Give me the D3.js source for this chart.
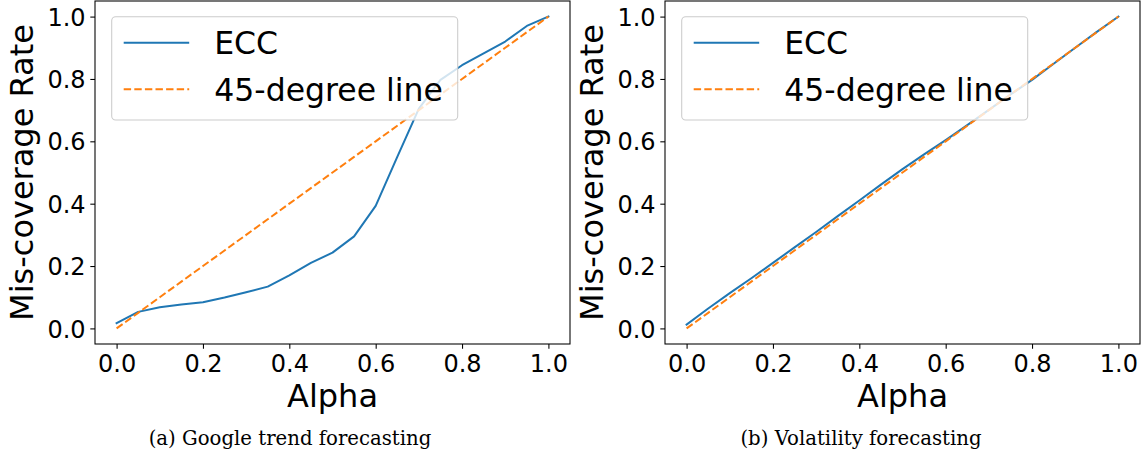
<!DOCTYPE html>
<html>
<head>
<meta charset="utf-8">
<script src="https://cdn.jsdelivr.net/npm/d3@7"></script>
<style>
  html, body { margin: 0; padding: 0; background: #fff; }
  svg { display: block; }
</style>
</head>
<body>
<svg id="chart" width="1144" height="457"></svg>
<script>
// ---- data ----
const alpha = [0, 0.05, 0.1, 0.15, 0.2, 0.25, 0.3, 0.35, 0.4, 0.45, 0.5,
               0.55, 0.6, 0.65, 0.7, 0.75, 0.8, 0.85, 0.9, 0.95, 1.0];
const eccGoogle = [0.017, 0.053, 0.068, 0.077, 0.084, 0.099, 0.116, 0.134, 0.170, 0.210, 0.243,
                   0.295, 0.393, 0.550, 0.705, 0.797, 0.844, 0.882, 0.920, 0.970, 1.0];
const eccVolatility = [0.012, 0.064, 0.113, 0.161, 0.210, 0.260, 0.309, 0.360, 0.410, 0.461, 0.511,
                       0.558, 0.604, 0.652, 0.701, 0.750, 0.797, 0.849, 0.900, 0.951, 1.0];
const diagonal = alpha.slice();
const tickValues = [0, 0.2, 0.4, 0.6, 0.8, 1.0];
const seriesNames = ["ECC", "45-degree line"];
const captions = ["(a) Google trend forecasting", "(b) Volatility forecasting"];

const colors = ["#1f77b4", "#ff7f0e"];
const svg = d3.select("#chart");

const panels = [
  { ox: 0, ecc: eccGoogle, caption: captions[0], capX: 290 },
  { ox: 570, ecc: eccVolatility, caption: captions[1], capX: 861 }
];

const frameL = 95, frameW = 475, frameT = 1, frameB = 344;

panels.forEach(p => {
  const g = svg.append("g").attr("transform", `translate(${p.ox},0)`);
  const x = d3.scaleLinear().domain([-0.05, 1.05]).range([frameL, frameL + frameW]);
  const y = d3.scaleLinear().domain([-0.05, 1.05]).range([frameB, frameT]);

  const line = d3.line().x((d, i) => x(alpha[i])).y(d => y(d));

  g.append("path").datum(p.ecc)
    .attr("d", line).attr("fill", "none")
    .attr("stroke", colors[0]).attr("stroke-width", 2)
    .attr("stroke-linejoin", "round").attr("stroke-linecap", "square");

  g.append("path").datum(diagonal)
    .attr("d", line).attr("fill", "none")
    .attr("stroke", colors[1]).attr("stroke-width", 2)
    .attr("stroke-dasharray", "7.4,3.2");

  // axes
  const xAxis = d3.axisBottom(x).tickValues(tickValues).tickFormat(d3.format(".1f"))
    .tickSize(4.7).tickPadding(4.7);
  const yAxis = d3.axisLeft(y).tickValues(tickValues).tickFormat(d3.format(".1f"))
    .tickSize(4.7).tickPadding(4.7);

  const gx = g.append("g").attr("transform", `translate(0,${frameB})`).call(xAxis);
  const gy = g.append("g").attr("transform", `translate(${frameL},0)`).call(yAxis);
  [gx, gy].forEach(a => {
    a.select(".domain").remove();
    a.selectAll(".tick line").attr("stroke", "#000").attr("stroke-width", 1.07);
    a.selectAll(".tick text").attr("fill", "#000")
      .style("font-family", "DejaVu Sans").style("font-size", "24px");
  });
  gx.selectAll(".tick text").attr("dy", null).attr("y", 28);
  gy.selectAll(".tick text").attr("dy", "0.36em");

  // frame
  g.append("rect").attr("x", frameL).attr("y", frameT)
    .attr("width", frameW).attr("height", frameB - frameT)
    .attr("fill", "none").attr("stroke", "#000").attr("stroke-width", 1.07);

  // axis labels
  g.append("text").attr("x", frameL + frameW / 2).attr("y", 407)
    .attr("text-anchor", "middle")
    .style("font-family", "DejaVu Sans").style("font-size", "32px")
    .text("Alpha");
  g.append("text")
    .attr("transform", `translate(33,${(frameT + frameB) / 2}) rotate(-90)`)
    .attr("text-anchor", "middle")
    .style("font-family", "DejaVu Sans").style("font-size", "32px")
    .text("Mis-coverage Rate");

  // legend
  const lx = frameL + 16.7, ly = 16.7;
  const lg = g.append("g");
  lg.append("rect").attr("x", lx).attr("y", ly).attr("width", 346).attr("height", 103.3)
    .attr("rx", 4).attr("ry", 4)
    .attr("fill", "rgba(255,255,255,0.8)").attr("stroke", "#cccccc").attr("stroke-width", 1.07);
  const rows = [42.7, 89.3];
  seriesNames.forEach((name, i) => {
    lg.append("line").attr("x1", lx + 12).attr("x2", lx + 77.5)
      .attr("y1", rows[i]).attr("y2", rows[i])
      .attr("stroke", colors[i]).attr("stroke-width", 2)
      .attr("stroke-dasharray", i === 1 ? "7.4,3.2" : null);
    lg.append("text").attr("x", lx + 102.5).attr("y", rows[i] + 11.2)
      .style("font-family", "DejaVu Sans").style("font-size", "31.5px")
      .text(name);
  });

  // caption
  svg.append("text").attr("x", p.capX).attr("y", 445)
    .attr("text-anchor", "middle")
    .style("font-family", "DejaVu Serif").style("font-size", "19.7px")
    .text(p.caption);
});
</script>
</body>
</html>
